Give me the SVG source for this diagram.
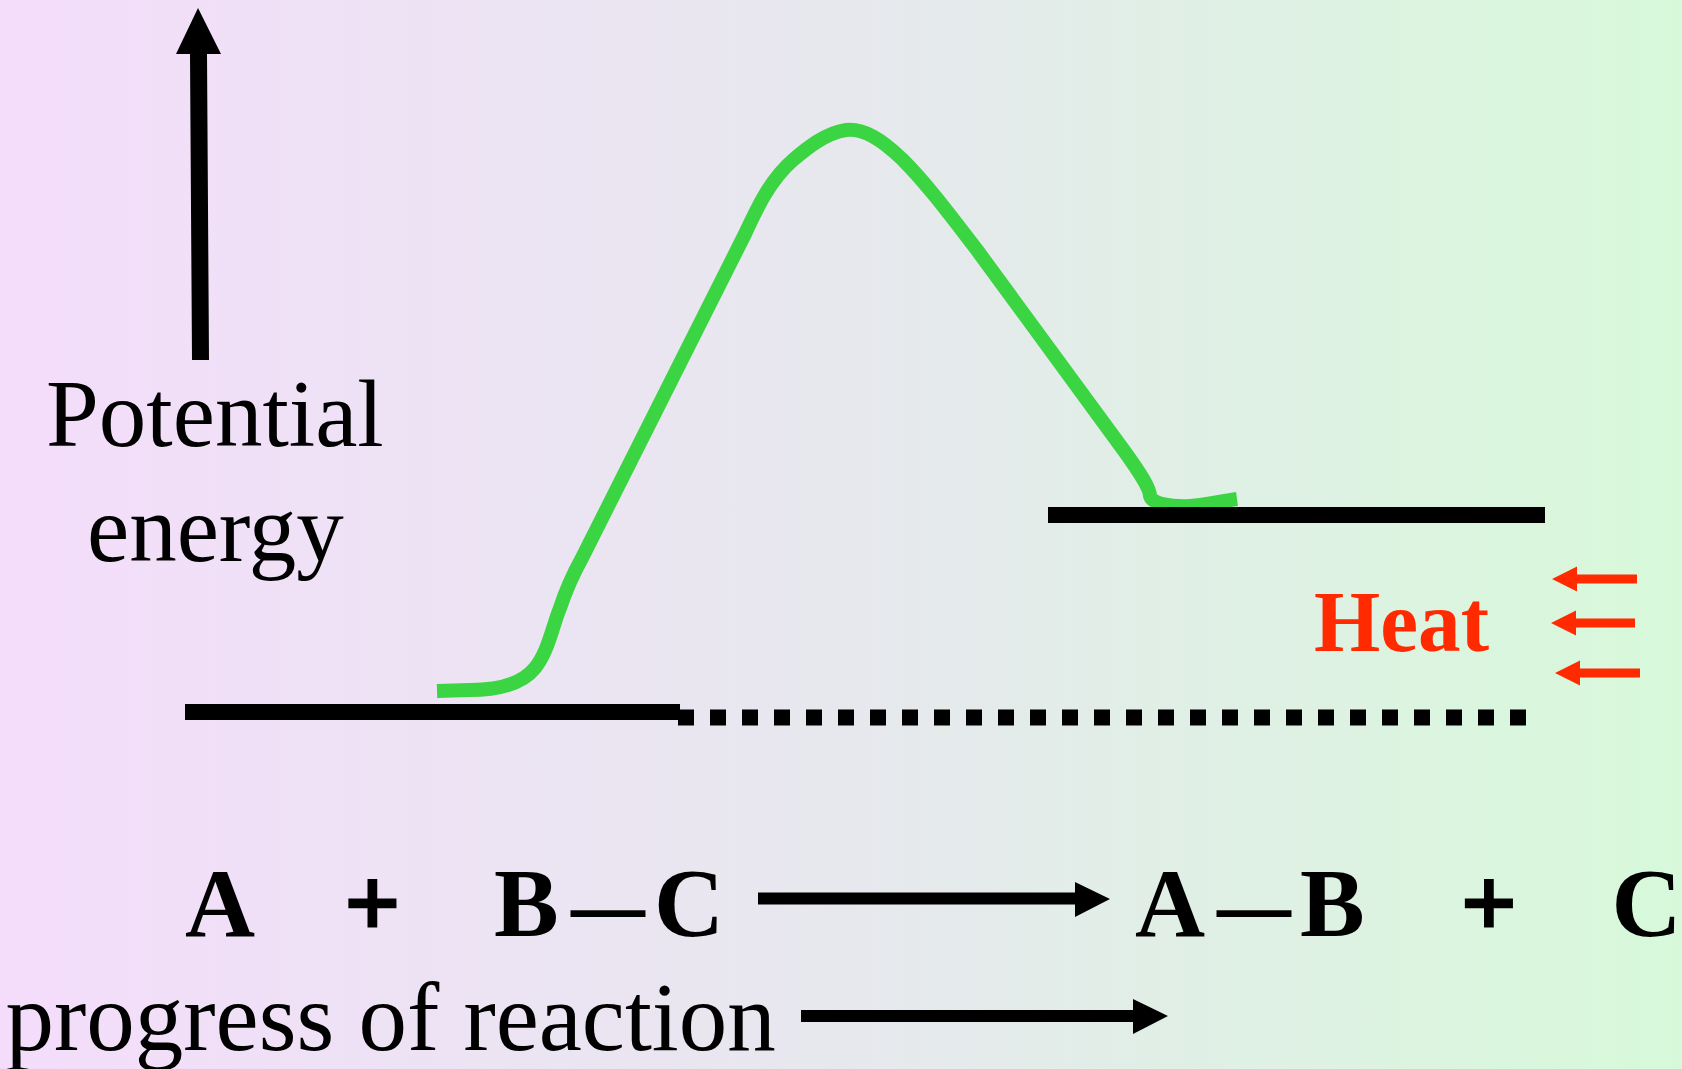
<svg xmlns="http://www.w3.org/2000/svg" width="1682" height="1069" viewBox="0 0 1682 1069">
  <defs>
    <linearGradient id="bg" x1="0" y1="0" x2="1" y2="0">
      <stop offset="0" stop-color="#f4ddfb"/>
      <stop offset="0.5" stop-color="#e7e8ee"/>
      <stop offset="1" stop-color="#d7f9da"/>
    </linearGradient>
    <style>
      .serif { font-family: "Liberation Serif", "Times New Roman", serif; fill: #000; }
      .label { font-size: 95px; }
      .eq { font-size: 97px; font-weight: bold; }
      .mid { text-anchor: middle; }
      .plus { stroke: #000; stroke-width: 3; }
      .heat { font-family: "Liberation Serif", "Times New Roman", serif; font-size: 87px; font-weight: bold; fill: #ff2a00; }
      .level { stroke: #000; stroke-width: 16; fill: none; }
      .curve { stroke: #3bd443; stroke-width: 14; fill: none; stroke-linejoin: round; }
      .black { fill: #000; }
      .red { fill: #ff2a00; }
    </style>
  </defs>

  <rect x="0" y="0" width="1682" height="1069" fill="url(#bg)"/>

  <g id="energy-axis">
    <polygon class="black" points="192,360 209,360 207,54 221,54 198,8 176,54 190,54"/>
    <text class="serif label" x="46" y="446">Potential</text>
    <text class="serif label" x="87" y="561">energy</text>
  </g>

  <g id="energy-curve">
    <path class="curve" d="M437 691 L470 690 C500 690 522 684 535 668 C548 652 552 628 560 608 C566 590 572 576 582 558 L745 234 C757 208 770 180 793 160 C806 149 825 133 846 130 C864 128 882 140 902 159 C927 184 950 215 977 250 L1125 452 C1140 473 1150 488 1150 496 C1152 504 1172 507 1190 506 C1205 505 1222 501 1237 499"/>
  </g>

  <g id="reactant-level">
    <line class="level" x1="185" y1="712" x2="680" y2="712"/>
  </g>
  <g id="product-level">
    <line class="level" x1="1048" y1="515" x2="1545" y2="515"/>
  </g>
  <g id="reference-level">
    <line class="level" x1="678" y1="717.5" x2="1526" y2="717.5" stroke-width="17" stroke-dasharray="16 16"/>
  </g>

  <g id="heat">
    <text class="heat" x="1314" y="651" textLength="175" lengthAdjust="spacingAndGlyphs">Heat</text>
    <polygon class="red" points="1637,574.5 1577,574.5 1577,566.5 1552,579 1577,591.5 1577,583.5 1637,583.5"/>
    <polygon class="red" points="1635,618.5 1576,618.5 1576,610.5 1551,623 1576,635.5 1576,627.5 1635,627.5"/>
    <polygon class="red" points="1640,668.5 1580,668.5 1580,660.5 1555,673 1580,685.5 1580,677.5 1640,677.5"/>
  </g>

  <g id="reactants">
    <text class="serif eq mid" x="220" y="936">A</text>
    <text class="serif eq mid plus" x="372.5" y="936">+</text>
    <text class="serif eq" x="494" y="936">B<tspan x="571" textLength="74" lengthAdjust="spacingAndGlyphs">—</tspan><tspan x="654">C</tspan></text>
  </g>

  <g id="products">
    <text class="serif eq" x="1135" y="936">A<tspan x="1217" textLength="74" lengthAdjust="spacingAndGlyphs">—</tspan><tspan x="1300">B</tspan></text>
    <text class="serif eq mid plus" x="1489" y="936">+</text>
    <text class="serif eq mid" x="1646.5" y="936">C</text>
  </g>

  <g id="connectors">
    <polygon class="black" points="758,892.5 1075,892.5 1075,882 1110,899 1075,917 1075,904.5 758,904.5"/>
    <polygon class="black" points="801,1010 1133,1010 1133,999 1168,1016 1133,1034 1133,1022 801,1022"/>
  </g>

  <g id="progress-label">
    <text class="serif" x="5.5" y="1050" font-size="97">progress of reaction</text>
  </g>
</svg>
